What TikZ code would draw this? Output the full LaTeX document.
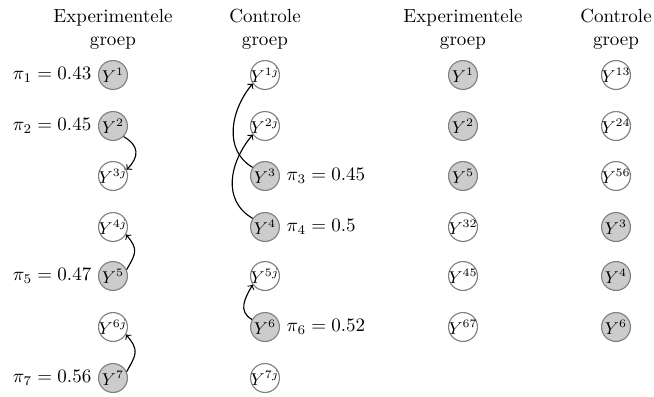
\documentclass[tikz,border=0pt]{standalone}
\usetikzlibrary{positioning}
\newcommand{\ylab}[1]{\makebox[0pt]{\small$Y^{#1}$}}
\begin{document}
\begin{tikzpicture}[x=0.526pt,y=0.526pt,
  yy/.style={circle, draw=gray, line width=0.6pt, minimum size=15.2pt, inner sep=0pt},
  tr/.style={yy, fill=gray!40},
  ct/.style={yy, fill=white},
  hd/.style={align=center, inner sep=0pt},
  lnk/.style={->, line width=0.6pt, black}]
\useasboundingbox (0,0) rectangle (654,-396);
% headers
\node[hd] (h1) at (113,-29) {Experimentele\\groep};
\node[hd] (h2) at (265,-29) {Controle\\groep};
\node[hd] (h3) at (463,-29) {Experimentele\\groep};
\node[hd] (h4) at (616,-29) {Controle\\groep};
% experimental column
\node[tr] (E1) at (113,-75)  {\ylab{1}};
\node[tr] (E2) at (113,-126) {\ylab{2}};
\node[ct] (E3) at (113,-176) {\ylab{3j}};
\node[ct] (E4) at (113,-227) {\ylab{4j}};
\node[tr] (E5) at (113,-276) {\ylab{5}};
\node[ct] (E6) at (113,-327) {\ylab{6j}};
\node[tr] (E7) at (113,-378) {\ylab{7}};
% control column
\node[ct] (C1) at (265,-75)  {\ylab{1j}};
\node[ct] (C2) at (265,-126) {\ylab{2j}};
\node[tr] (C3) at (265,-176) {\ylab{3}};
\node[tr] (C4) at (265,-227) {\ylab{4}};
\node[ct] (C5) at (265,-276) {\ylab{5j}};
\node[tr] (C6) at (265,-327) {\ylab{6}};
\node[ct] (C7) at (265,-378) {\ylab{7j}};
% right experimental
\node[tr] (R1) at (463,-75)  {\ylab{1}};
\node[tr] (R2) at (463,-126) {\ylab{2}};
\node[tr] (R3) at (463,-176) {\ylab{5}};
\node[ct] (R4) at (463,-227) {\ylab{32}};
\node[ct] (R5) at (463,-276) {\ylab{45}};
\node[ct] (R6) at (463,-327) {\ylab{67}};
% right control
\node[ct] (S1) at (616,-75)  {\ylab{13}};
\node[ct] (S2) at (616,-126) {\ylab{24}};
\node[ct] (S3) at (616,-176) {\ylab{56}};
\node[tr] (S4) at (616,-227) {\ylab{3}};
\node[tr] (S5) at (616,-276) {\ylab{4}};
\node[tr] (S6) at (616,-327) {\ylab{6}};
% labels
\node[left=0pt of E1] (p1) {$\pi_1 = 0.43$};
\node[left=0pt of E2] (p2) {$\pi_2 = 0.45$};
\node[left=0pt of E5] (p5) {$\pi_5 = 0.47$};
\node[left=0pt of E7] (p7) {$\pi_7 = 0.56$};
\node[right=0pt of C3] (p3) {$\pi_3 = 0.45$};
\node[right=0pt of C4] (p4) {$\pi_4 = 0.5$};
\node[right=0pt of C6] (p6) {$\pi_6 = 0.52$};
% arrows
\draw[lnk] (E2.-45) to[out=-30, in=45, looseness=1.4] (E3.25);
\draw[lnk] (E5.25) to[out=60, in=-50, looseness=1.4] (E4.-30);
\draw[lnk] (E7.25) to[out=60, in=-50, looseness=1.4] (E6.-30);
\draw[lnk] (C3.145) to[out=150, in=-130, looseness=1.05] (C1.-145);
\draw[lnk] (C4.145) to[out=150, in=-130, looseness=1.1] (C2.-145);
\draw[lnk] (C6.150) to[out=150, in=-120, looseness=1.2] (C5.-145);
\end{tikzpicture}
\end{document}
